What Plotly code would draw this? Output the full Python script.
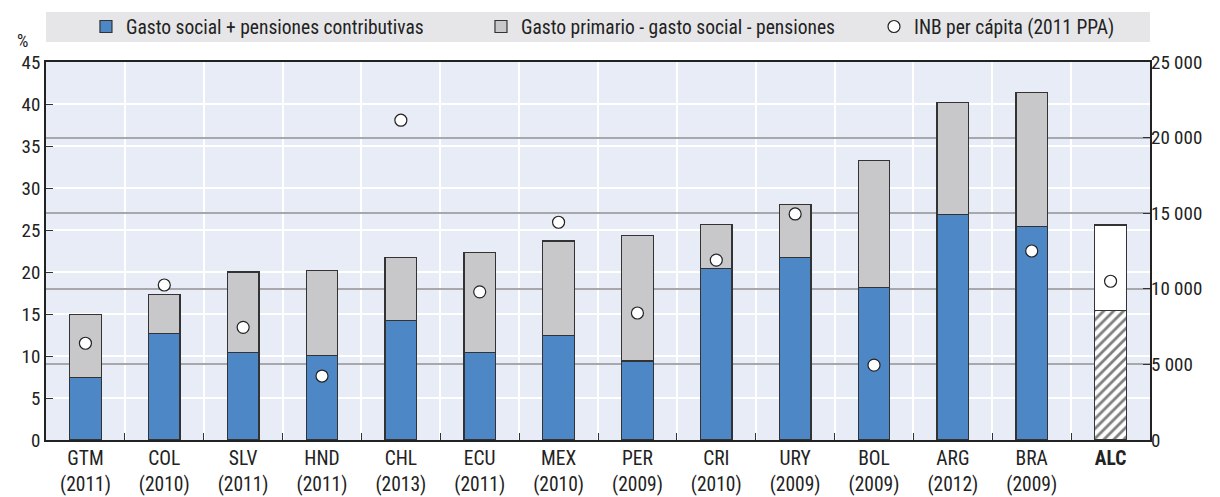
import plotly.graph_objects as go

countries = ["GTM", "COL", "SLV", "HND", "CHL", "ECU", "MEX", "PER", "CRI", "URY", "BOL", "ARG", "BRA", "ALC"]
years = ["2011", "2010", "2011", "2011", "2013", "2011", "2010", "2009", "2010", "2009", "2009", "2012", "2009", ""]
social = [7.4, 12.7, 10.4, 10.1, 14.2, 10.4, 12.4, 9.4, 20.4, 21.7, 18.2, 26.8, 25.4]
total_primary = [14.9, 17.3, 20.0, 20.2, 21.7, 22.3, 23.7, 24.3, 25.7, 28.0, 33.3, 40.2, 41.4]
gni = [6400, 10250, 7450, 4230, 21150, 9800, 14400, 8400, 11900, 14950, 4950, None, 12500, 10500]
alc_social = 15.4
alc_total = 25.6

other = [round(t - s, 2) for t, s in zip(total_primary, social)]
cats = countries
ticktext = [f"{c}<br>({y})" for c, y in zip(countries[:-1], years[:-1])] + ["<b>ALC</b>"]

FONT = "Liberation Sans Narrow, Roboto Condensed, Arial Narrow, sans-serif"
BLUE = "#4E87C6"
GRAY = "#C8C8CA"
EDGE = "#333333"

fig = go.Figure()
fig.add_trace(go.Bar(x=cats[:-1], y=social, name="Gasto social + pensiones contributivas", legend="legend",
                     marker=dict(color=BLUE, line=dict(color=EDGE, width=1.2)), width=0.4))
fig.add_trace(go.Bar(x=cats[:-1], y=other, name="Gasto primario - gasto social - pensiones", legend="legend2",
                     marker=dict(color=GRAY, line=dict(color=EDGE, width=1.2)), width=0.4))
fig.add_trace(go.Bar(x=["ALC"], y=[alc_social], showlegend=False,
                     marker=dict(color="white", line=dict(color=EDGE, width=1.2),
                                 pattern=dict(shape="/", fgcolor="#000000", bgcolor="white", size=7, solidity=0.4)),
                     width=0.4))
fig.add_trace(go.Bar(x=["ALC"], y=[round(alc_total - alc_social, 2)], showlegend=False,
                     marker=dict(color="white", line=dict(color=EDGE, width=1.2)), width=0.4))
fig.add_trace(go.Scatter(x=cats, y=gni, mode="markers", name="INB per cápita (2011 PPA)", yaxis="y2",
                         legend="legend3",
                         marker=dict(color="white", size=12, line=dict(color="#222222", width=1.2))))

leg_common = dict(orientation="h", xanchor="left", y=1.093, yanchor="middle", yref="paper",
                  bgcolor="rgba(0,0,0,0)", font=dict(size=19.5))

fig.update_layout(
    barmode="stack",
    width=1212, height=489,
    margin=dict(l=38, r=70, t=54, b=57, autoexpand=False),
    paper_bgcolor="white",
    plot_bgcolor="#E8ECF6",
    separators=", ",
    font=dict(family=FONT, size=18, color="#222222"),
    showlegend=True,
    legend=dict(x=0.0362, **leg_common),
    legend2=dict(x=0.394, **leg_common),
    legend3=dict(x=0.75, **leg_common),
    xaxis=dict(type="category", categoryorder="array", categoryarray=cats, tickmode="array",
               tickvals=cats, ticktext=ticktext, tickson="boundaries", ticks="inside", ticklen=7,
               tickcolor="#333333", showgrid=True, gridcolor="white", gridwidth=1.5,
               showline=True, linecolor="#222222", linewidth=1.8, mirror=True,
               range=[-0.5, 13.5], tickfont=dict(size=19.5)),
    yaxis=dict(range=[0, 45], dtick=5, showgrid=True, gridcolor="white", gridwidth=1.5,
               ticks="inside", ticklen=7, tickcolor="#333333", showline=True, linecolor="#222222",
               linewidth=1.8, mirror=True, zeroline=False, tickfont=dict(size=19)),
    yaxis2=dict(overlaying="y", side="right", range=[0, 25000], tickvals=[0, 5000, 10000, 15000, 20000, 25000],
                tickformat=",d", showgrid=True, gridcolor="#A8A8AC", gridwidth=1.5, ticks="inside", ticklen=7,
                tickcolor="#333333", zeroline=False, tickfont=dict(size=19)),
)

fig.add_shape(type="rect", xref="paper", yref="paper", x0=0, x1=1, y0=1.053, y1=1.132,
              fillcolor="#E6E6E8", line=dict(width=0), layer="below")
fig.add_annotation(text="%", xref="paper", yref="paper", x=-0.0217, y=1.058, showarrow=False,
                   xanchor="center", yanchor="middle", font=dict(size=18))

fig.write_html("out.html")
